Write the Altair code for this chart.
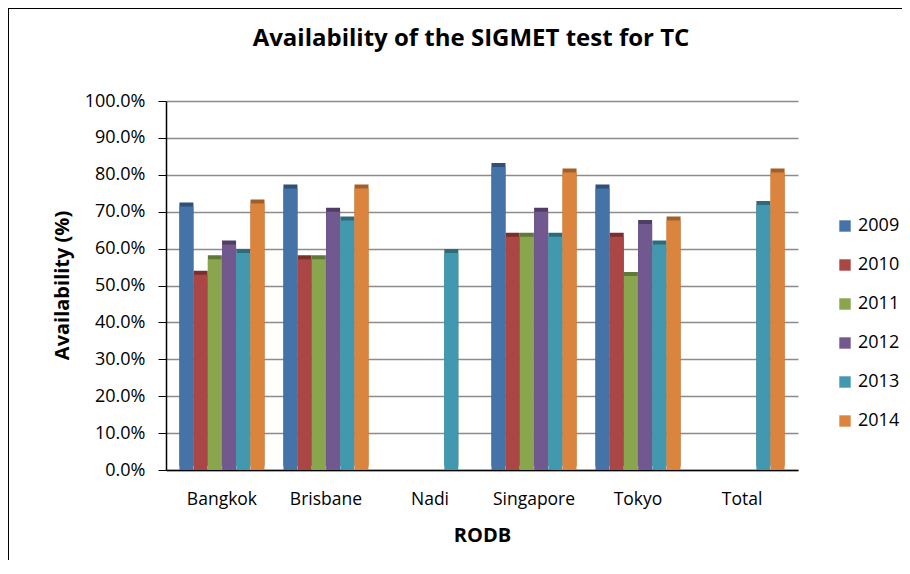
import altair as alt
import pandas as pd

categories = ["Bangkok", "Brisbane", "Nadi", "Singapore", "Tokyo", "Total"]
years = ["2009", "2010", "2011", "2012", "2013", "2014"]
colors = ["#4572A7", "#AA4643", "#89A54E", "#71588F", "#4198AF", "#DB843D"]
sides = ["#2F5079", "#7A2F2D", "#617838", "#4F3D66", "#2C6B7C", "#A15E28"]

title_text = ["Availability of the SIGMET test for TC"]

# values (fraction) by year, in category order; None = no bar
v2009 = [0.714, 0.763, None, 0.821, 0.763, None]
v2010 = [0.529, 0.571, None, 0.632, 0.632, None]
v2011 = [0.571, 0.571, None, 0.632, 0.526, None]
v2012 = [0.611, 0.700, None, 0.700, 0.667, None]
v2013 = [0.588, 0.676, 0.588, 0.632, 0.611, 0.718]
v2014 = [0.722, 0.763, None, 0.806, 0.676, 0.806]

series = [v2009, v2010, v2011, v2012, v2013, v2014]
rows = []
for y, vals in zip(years, series):
    for c, v in zip(categories, vals):
        if v is not None:
            rows.append({"RODB": c, "Year": y, "Availability": v})
df = pd.DataFrame(rows)

FONT = "Open Sans"

x_enc = alt.X("RODB:N", sort=categories,
              scale=alt.Scale(paddingInner=0.18, paddingOuter=0.128),
              axis=alt.Axis(title="RODB", labelAngle=0, labelFontSize=17.5,
                            labelPadding=20, tickSize=0, domainColor="#000000",
                            domainWidth=1.5, titleFontSize=20, titleFontWeight="bold",
                            titleY=65, titleBaseline="middle", labelColor="#000",
                            titleColor="#000"))
y_enc = alt.Y("Availability:Q",
              scale=alt.Scale(domain=[0, 1]),
              axis=alt.Axis(title="Availability (%)", format=".1%", values=[i / 10 for i in range(11)],
                            labelFontSize=18, tickSize=8, labelPadding=13,
                            tickColor="#000", domainColor="#000", domainWidth=1.5,
                            gridColor="#8c8c8c", gridWidth=1.5,
                            titleFontSize=20, titleFontWeight="bold",
                            titleX=-104, titleY=184, titleBaseline="middle",
                            titleAngle=-90, labelColor="#000", titleColor="#000"))

xoff = alt.XOffset("Year:N", sort=years, scale=alt.Scale(paddingInner=0))

side = alt.Chart(df).mark_bar(xOffset=3, yOffset=-4, size=14).encode(
    x=x_enc, y=y_enc, xOffset=xoff,
    color=alt.Color("Year:N", sort=years, scale=alt.Scale(domain=years, range=sides), legend=None),
)

front = alt.Chart(df).mark_bar(size=14).encode(
    x=x_enc, y=y_enc, xOffset=xoff,
    color=alt.Color("Year:N", sort=years, scale=alt.Scale(domain=years, range=colors),
                    legend=alt.Legend(title=None, orient="none", legendX=670, legendY=116,
                                      symbolType="square", symbolSize=130,
                                      symbolStrokeWidth=0, labelFontSize=18,
                                      rowPadding=21, labelColor="#000", labelOffset=4)),
)

frame = alt.Chart(df).mark_rect(fill=None, stroke="#000", strokeWidth=1.5).encode(
    x=alt.value(-158), x2=alt.value(780), y=alt.value(-93), y2=alt.value(500)
)

title = alt.Chart(pd.DataFrame({"t": title_text})).mark_text(
    font=FONT, fontSize=24, fontWeight="bold", color="#000",
    align="center", baseline="alphabetic"
).encode(text="t:N", x=alt.value(305), y=alt.value(-55))

chart = alt.layer(side, front, frame, title).resolve_scale(color="independent").properties(
    width=632, height=369,
    autosize=alt.AutoSizeParams(type="none"),
    padding={"left": 158, "top": 93, "right": 104, "bottom": 90},
).configure(font=FONT).configure_view(stroke=None).configure_axis(
    labelFont=FONT, titleFont=FONT
).configure_legend(labelFont=FONT)

chart.save("out.html", embed_options={"renderer": "svg", "actions": False})
